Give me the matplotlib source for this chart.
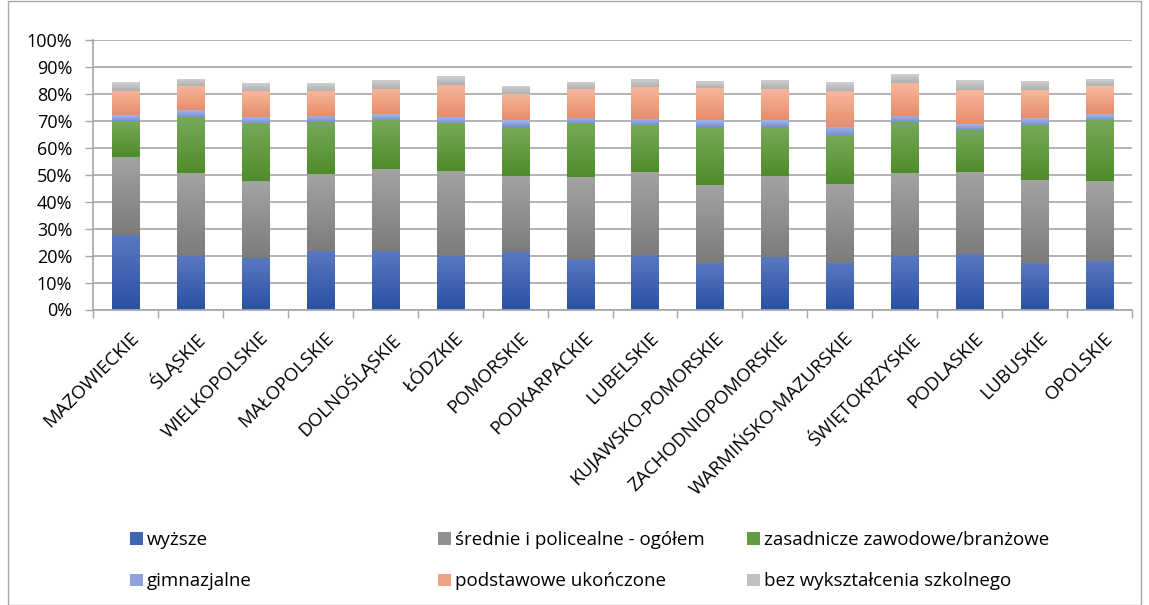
import numpy as np
import matplotlib.pyplot as plt
from matplotlib.colors import LinearSegmentedColormap
from matplotlib.patches import Rectangle
from matplotlib.transforms import ScaledTranslation

plt.rcParams["font.family"] = ["Open Sans", "DejaVu Sans"]

regions = ["MAZOWIECKIE", "ŚLĄSKIE", "WIELKOPOLSKIE", "MAŁOPOLSKIE", "DOLNOŚLĄSKIE",
           "ŁÓDZKIE", "POMORSKIE", "PODKARPACKIE", "LUBELSKIE", "KUJAWSKO-POMORSKIE",
           "ZACHODNIOPOMORSKIE", "WARMIŃSKO-MAZURSKIE", "ŚWIĘTOKRZYSKIE", "PODLASKIE",
           "LUBUSKIE", "OPOLSKIE"]

# udział [%] wg poziomu wykształcenia
wyzsze = [27.6, 19.8, 19.3, 21.7, 21.7, 19.8, 21.3, 18.7, 20.2, 17.2, 19.5, 17.2, 19.8, 20.6, 17.2, 18.0]
srednie = [29.0, 30.9, 28.4, 28.6, 30.5, 31.6, 28.3, 30.5, 30.9, 29.0, 30.1, 29.4, 30.9, 30.5, 30.9, 29.7]
zasadnicze = [13.4, 20.8, 21.3, 19.3, 18.2, 17.6, 18.2, 19.8, 17.4, 21.6, 18.2, 18.2, 18.9, 15.6, 20.4, 22.7]
gimnazjalne = [2.2, 2.6, 2.4, 2.3, 2.2, 2.5, 2.6, 2.3, 2.3, 2.6, 2.6, 3.0, 2.3, 2.2, 2.6, 2.2]
podstawowe = [9.0, 9.0, 9.8, 9.3, 9.3, 11.9, 9.8, 10.6, 11.9, 11.9, 11.5, 13.4, 12.2, 12.6, 10.4, 10.4]
bez = [3.1, 2.5, 2.9, 2.9, 3.0, 3.0, 2.8, 2.6, 2.9, 2.6, 3.0, 3.3, 3.0, 3.4, 3.0, 2.6]

series = [
    ("wyższe", wyzsze, "#5A79C1", "#2A51A3"),
    ("średnie i policealne - ogółem", srednie, "#A3A3A3", "#7C7C7C"),
    ("zasadnicze zawodowe/branżowe", zasadnicze, "#77A95A", "#4F8C2A"),
    ("gimnazjalne", gimnazjalne, "#A2B5E5", "#7A91D2"),
    ("podstawowe ukończone", podstawowe, "#F7B79C", "#E78D6B"),
    ("bez wykształcenia szkolnego", bez, "#CFCFCF", "#B0B0B0"),
]

W, H = 1149, 605
fig = plt.figure(figsize=(W / 100, H / 100), dpi=100)
ax = fig.add_axes([93 / W, 1 - 309.5 / H, (1132 - 93) / W, (309.5 - 40.3) / H])

x = np.arange(len(regions))
bottom = np.zeros(len(regions))
grad = np.linspace(0, 1, 64).reshape(-1, 1)
containers = []
for name, vals, top_c, bot_c in series:
    vals = np.array(vals)
    mid = LinearSegmentedColormap.from_list("m", [bot_c, top_c])(0.5)
    bars = ax.bar(x, vals, 0.416, bottom=bottom, color=mid, label=name, zorder=2)
    cmap = LinearSegmentedColormap.from_list(name, [bot_c, top_c])
    for r in bars:
        x0, y0 = r.get_x(), r.get_y()
        ax.imshow(grad, extent=[x0, x0 + r.get_width(), y0, y0 + r.get_height()],
                  origin="lower", aspect="auto", cmap=cmap, zorder=3)
    containers.append(bars)
    bottom += vals

ax.set_xlim(-0.5, len(regions) - 0.5)
ax.set_ylim(0, 100)
ax.set_yticks(np.arange(0, 101, 10))
ax.set_yticklabels([f"{v}%" for v in range(0, 101, 10)], fontsize=13)
ax.yaxis.grid(True, color="#A6A6A6", linewidth=1.2, zorder=0)
ax.set_axisbelow(True)
ax.tick_params(axis="y", length=6, width=1, color="#A6A6A6", pad=9)

ax.set_xticks(x)
ax.set_xticklabels(regions, rotation=45, ha="right", rotation_mode="anchor", fontsize=13.5)
ax.tick_params(axis="x", length=0, pad=14)
shift = ScaledTranslation(4 / 100, 0, fig.dpi_scale_trans)
for lab in ax.get_xticklabels():
    lab.set_transform(lab.get_transform() + shift)
ax.set_xticks(np.arange(-0.5, len(regions)), minor=True)
ax.tick_params(axis="x", which="minor", length=6, width=1, color="#A6A6A6")

for s in ["top", "right"]:
    ax.spines[s].set_visible(False)
for s in ["left", "bottom"]:
    ax.spines[s].set_color("#A6A6A6")
    ax.spines[s].set_linewidth(1.2)

# legenda w trzech kolumnach
cols = [(0, 3, 130), (1, 4, 438), (2, 5, 747)]
for a, b, px in cols:
    fig.legend([containers[a], containers[b]], [series[a][0], series[b][0]],
               loc="upper left", bbox_to_anchor=(px / W, 1 - 531 / H),
               frameon=False, fontsize=13.5, borderpad=0, borderaxespad=0,
               handlelength=0.69, handleheight=0.64, handletextpad=0.2,
               labelspacing=1.25)

fig.add_artist(Rectangle((8 / W, 0), (1141 - 8) / W, 1 - 1 / H, transform=fig.transFigure,
                         fill=False, edgecolor="#A6A6A6", linewidth=1))

fig.savefig("out.png", dpi=100)
